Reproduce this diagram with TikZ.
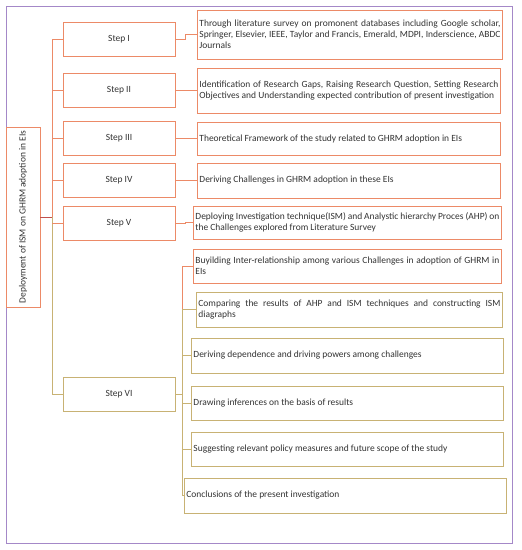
\documentclass[tikz,border=0pt]{standalone}
\usepackage{fontspec}
\setmainfont{Carlito}
\usepackage{xcolor}
\usetikzlibrary{positioning}

\definecolor{boxorange}{HTML}{EC8A67}
\definecolor{boxkhaki}{HTML}{C8B274}
\definecolor{framepurple}{HTML}{A488C8}
\definecolor{linkred}{HTML}{C0504D}

\tikzset{
  txt/.style={font=\fontsize{9.5}{11}\selectfont, text=black!80},
  stepbox/.style={txt, draw=#1, line width=0.9bp, minimum width=112bp,
    minimum height=34bp, inner sep=0pt},
  taskbox/.style={txt, draw=#1, line width=0.9bp, inner sep=2bp,
    align=justify, anchor=west},
  link/.style={draw=#1, line width=0.9bp}
}

\begin{document}
\hyphenpenalty=10000
\exhyphenpenalty=10000
\begin{tikzpicture}[x=1bp,y=-1bp]
    \useasboundingbox (0,0) rectangle (522,550);
    \draw[framepurple, line width=0.9bp] (6,6) rectangle (512,543);

    % root of the tree
    \node[txt, draw=boxorange, line width=0.9bp, minimum width=34bp,
      minimum height=180bp, inner sep=0pt] (root) at (23,217)
      {\rotatebox{90}{Deployment of ISM on GHRM adoption in EIs}};

    % steps
    \node[stepbox=boxorange] (s1) at (119,39.5) {Step I};
    \node[stepbox=boxorange] (s2) at (119,90.5) {Step II};
    \node[stepbox=boxorange] (s3) at (119,138.5) {Step III};
    \node[stepbox=boxorange] (s4) at (119,180) {Step IV};
    \node[stepbox=boxorange] (s5) at (119,223.5) {Step V};
    \node[stepbox=boxkhaki] (s6) at (119,394) {Step VI};

    % tasks
    \node[taskbox=boxorange, text width=301bp, minimum height=49bp] (r1) at (197,34.5)
      {Through literature survey on promonent databases including Google scholar, Springer, Elsevier, IEEE, Taylor and Francis, Emerald, MDPI, Inderscience, ABDC Journals};
    \node[taskbox=boxorange, text width=299bp, minimum height=45bp] (r2) at (197,90.5)
      {Identification of Research Gaps, Raising Research Question, Setting Research Objectives and Understanding expected contribution of present investigation};
    \node[taskbox=boxorange, text width=299bp, minimum height=33bp] (r3) at (197,138.5)
      {Theoretical Framework of the study related to GHRM adoption in EIs};
    \node[taskbox=boxorange, text width=299bp, minimum height=35bp] (r4) at (197,180.5)
      {Deriving Challenges in GHRM adoption in these EIs};
    \node[taskbox=boxorange, text width=304bp, minimum height=33bp] (r5) at (193,222.5)
      {Deploying Investigation technique(ISM) and Analystic hierarchy Proces (AHP) on the Challenges explored from Literature Survey};
    \node[taskbox=boxorange, text width=304bp, minimum height=34bp] (r6) at (193,266)
      {Buyilding Inter-relationship among various Challenges in adoption of GHRM in\linebreak EIs};
    \node[taskbox=boxkhaki, text width=302bp, minimum height=35bp] (r7) at (196,309.5)
      {Comparing the results of AHP and ISM techniques and constructing ISM\linebreak diagraphs};
    \node[taskbox=boxkhaki, text width=308bp, minimum height=35bp] (r8) at (191,355.5)
      {Deriving dependence and driving powers among challenges};
    \node[taskbox=boxkhaki, text width=308bp, minimum height=34bp] (r9) at (191,403)
      {Drawing inferences on the basis of results};
    \node[taskbox=boxkhaki, text width=308bp, minimum height=34bp] (r10) at (191,449)
      {Suggesting relevant policy measures and future scope of the study};
    \node[taskbox=boxkhaki, text width=318bp, minimum height=35bp] (r11) at (184,495.5)
      {Conclusions of the present investigation};

    % trunk
    \draw[link=linkred] (root.east) -- ++(12,0) coordinate (fork);
    \draw[link=boxorange] (fork |- s1.west) -- (fork);
    \draw[link=boxkhaki] (fork) -- (fork |- s6.west);
    \foreach \s in {s1,s2,s3,s4,s5}
      \draw[link=boxorange] (fork |- \s.west) -- (\s.west);
    \draw[link=boxkhaki] (fork |- s6.west) -- (s6.west);

    % steps to tasks
    \foreach \s/\r in {s1/r1,s2/r2,s3/r3,s4/r4,s5/r5}
      \draw[link=boxorange] (\s.east) -- ++(10,0) |- (\r.west);

    \draw[link=boxkhaki] (s6.east) -- ++(7,0) coordinate (split);
    \draw[link=boxorange] (split) |- (r6.west);
    \foreach \r in {r7,r8,r9,r10,r11}
      \draw[link=boxkhaki] (split) |- (\r.west);
  \end{tikzpicture}
\end{document}
